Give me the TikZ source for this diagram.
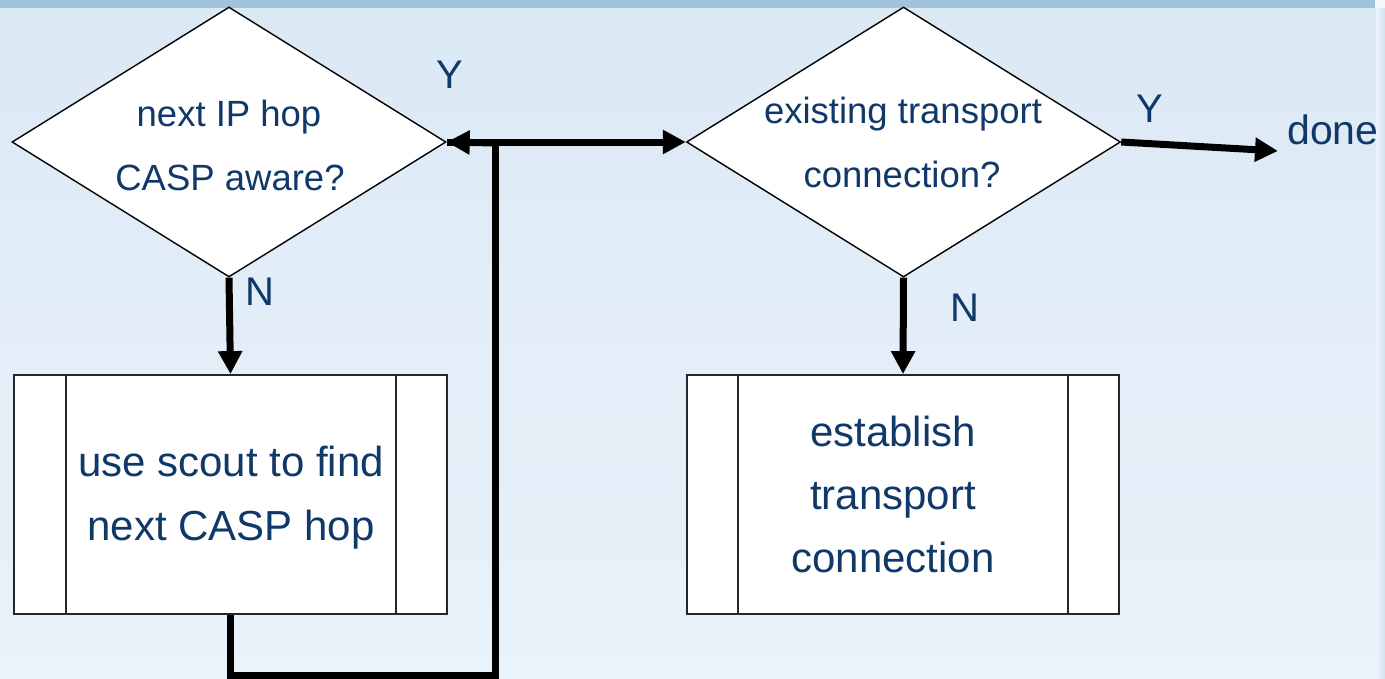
\documentclass[tikz,border=0pt]{standalone}
\usepackage{fontspec}
\setmainfont{Liberation Sans}
\usetikzlibrary{shapes.geometric,arrows.meta}
\definecolor{txt}{HTML}{103868}
\definecolor{bgtop}{HTML}{DBE9F5}
\definecolor{bgbot}{HTML}{EAF2FA}
\definecolor{band}{HTML}{A0C3DE}
\definecolor{rstrip}{HTML}{D2E3F1}
\begin{document}
\begin{tikzpicture}[x=1pt,y=-1pt,
  dia/.style={diamond,draw=black,line width=1.4pt,fill=white,minimum width=434pt,minimum height=270pt,inner sep=0pt},
  proc/.style={rectangle,draw=black!85,line width=1.8pt,fill=white,minimum width=433pt,minimum height=239pt,inner sep=0pt},
  inner/.style={draw=black!85,line width=1.8pt},
  dtext/.style={anchor=base,text=txt,inner sep=0pt,font=\fontsize{36.5}{44}\selectfont},
  btext/.style={anchor=base,text=txt,inner sep=0pt,font=\fontsize{42}{50}\selectfont},
  lbl/.style={anchor=base,text=txt,inner sep=0pt,font=\fontsize{40}{48}\selectfont},
  flow/.style={line width=7pt,-{Triangle[length=23pt,width=23pt]}},
  plainline/.style={line width=7pt,line join=miter}]
\useasboundingbox (0,0) rectangle (1385,678);
% background
\shade[top color=bgtop,bottom color=bgbot] (0,0) rectangle (1385,678);
\fill[band] (0,0) rectangle (1375,8);
\fill[bgbot!60!white] (1375,0) rectangle (1385,8);
\shade[left color=bgbot,right color=rstrip] (1376,8) rectangle (1385,678);

% diamonds
\node[dia] (d1) at (229,142) {};
\node[dia] (d2) at (903.5,142) {};
\node[dtext] (d1a) at (229,126) {next IP hop};
\node[dtext] (d1b) at (230,190) {CASP aware?};
\node[dtext] (d2a) at (903,123) {existing transport};
\node[dtext] (d2b) at (902,187) {connection?};

% process boxes
\node[proc] (b1) at (230.5,494.5) {};
\node[proc,minimum width=432pt] (b2) at (903,494.5) {};
\draw[inner] ([xshift=53pt]b1.north west) -- ([xshift=53pt]b1.south west);
\draw[inner] ([xshift=-52pt]b1.north east) -- ([xshift=-52pt]b1.south east);
\draw[inner] ([xshift=52pt]b2.north west) -- ([xshift=52pt]b2.south west);
\draw[inner] ([xshift=-52pt]b2.north east) -- ([xshift=-52pt]b2.south east);
\node[btext] (b1a) at (231,476.7) {use scout to find};
\node[btext] (b1b) at (231,540) {next CASP hop};
\node[btext] (b2a) at (893,446.7) {establish};
\node[btext] (b2b) at (893,509.7) {transport};
\node[btext] (b2c) at (893,572.7) {connection};

% labels
\node[lbl] (y1) at (450,88) {Y};
\node[lbl] (y2) at (1150,122.5) {Y};
\node[lbl] (n1) at (260,305) {N};
\node[lbl] (n2) at (965,321) {N};
\node[lbl,font=\fontsize{41}{48}\selectfont] (done) at (1333,144) {done};

% connectors
\coordinate (lc) at (495,675);
\coordinate (j) at (495,143);
\coordinate (donetip) at (1278,151);
\draw[flow] (d1.south) -- (b1.north);
\draw[flow] (d2.south) -- (b2.north);
\draw[plainline] (b1.south) |- (lc) -- (j);
\draw[flow] (j) -- (d1.east);
\draw[flow] (d1.east) -- (d2.west);
\draw[flow] (d2.east) -- (donetip);
\end{tikzpicture}
\end{document}
